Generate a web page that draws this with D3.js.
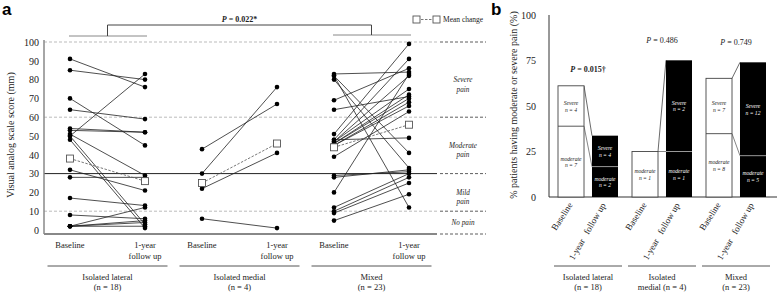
<!DOCTYPE html>
<html><head><meta charset="utf-8">
<script src="https://cdn.jsdelivr.net/npm/d3@7"></script>
<style>
body{margin:0;background:#fff}
svg{display:block}
svg text{font-family:"Times New Roman","Liberation Serif","DejaVu Serif",serif;fill:#222}
</style>
</head><body>
<svg id="c" width="778" height="294" font-family="Liberation Serif, DejaVu Serif, serif"></svg>
<script>
// ---------------- DATA ----------------
const groups = ["Isolated lateral", "Isolated medial", "Mixed"];
const groupLabelsA = [["Isolated lateral", "(n = 18)"], ["Isolated medial", "(n = 4)"], ["Mixed", "(n = 23)"]];
const groupLabelsB = [["Isolated lateral", "(n = 18)"], ["Isolated", "medial (n = 4)"], ["Mixed", "(n = 23)"]];
const timePoints = ["Baseline", "1-year follow up"];
const yTicksA = [0, 10, 20, 30, 40, 50, 60, 70, 80, 90, 100];
const yTicksB = [0, 25, 50, 75, 100];

// panel a: individual VAS scores (mm)
const lateralBaseline = [91, 85, 70, 64, 54, 53, 50, 51, 50, 48, 32, 28, 17, 8, 2, 2, 2, 2];
const lateralFollowUp = [76, 80, 45, 59, 52, 52, 83, 29, 3, 1, 21, 28, 13, 6, 12, 5, 4, 2];
const medialBaseline = [43, 30, 22, 6];
const medialFollowUp = [67, 76, 41, 1];
const mixedBaseline = [83, 82, 82, 80, 69, 64, 51, 48, 48, 47, 47, 46, 46, 45, 45, 39, 29, 28, 20, 12, 10, 9, 5];
const mixedFollowUp = [84, 41, 12, 33, 86, 71, 99, 91, 49, 82, 75, 72, 70, 68, 66, 63, 31, 32, 83, 30, 28, 25, 19];
const meanBaseline = [38, 25, 44];
const meanFollowUp = [26, 46, 56];
const painCuts = [100, 60, 30, 10];
const painLabels = [["Severe", "pain"], ["Moderate", "pain"], ["Mild", "pain"], ["No pain"]];
const pValueA = "0.022*";

// panel b: % patients with moderate / severe pain
const baseModerate = [38.9, 25, 34.8];
const baseSevere = [22.2, 0, 30.4];
const fuModerate = [16.7, 25, 22.7];
const fuSevere = [17.0, 50.1, 51.3];
const baseModerateN = ["n = 7", "n = 1", "n = 8"];
const baseSevereN = ["n = 4", "", "n = 7"];
const fuModerateN = ["n = 2", "n = 1", "n = 5"];
const fuSevereN = ["n = 4", "n = 2", "n = 12"];
const pValuesB = ["0.015\u2020", "0.486", "0.749"];
const pBold = [true, false, false];

const valuesA = [[lateralBaseline, lateralFollowUp], [medialBaseline, medialFollowUp], [mixedBaseline, mixedFollowUp]];

// ---------------- PANEL A ----------------
const svg = d3.select("#c");
const left = 44, right = 437, bottomY = 234;
const yA = d3.scaleLinear().domain([0, 100]).range([230, 42]);
const xA = d3.scaleBand().domain(groups).range([41.5, 437.5]);
const xInA = d3.scalePoint().domain(timePoints).range([0, xA.bandwidth()]).padding(0.38);
const px = (g, t) => xA(g) + xInA(t);

svg.append("text").text("a").attr("x", 2).attr("y", 15)
  .style("font-family", "'Liberation Sans', Arial, sans-serif").style("font-weight", "bold").style("font-size", "17px").style("fill", "#000");
svg.append("text").text("b").attr("x", 491).attr("y", 15)
  .style("font-family", "'Liberation Sans', Arial, sans-serif").style("font-weight", "bold").style("font-size", "17px").style("fill", "#000");

const gA = svg.append("g");
// gridlines
painCuts.forEach(v => {
  gA.append("line").attr("x1", left).attr("x2", right).attr("y1", yA(v)).attr("y2", yA(v))
    .attr("stroke", v === 30 ? "#222" : "#aaa").attr("stroke-width", v === 30 ? 1 : 0.8)
    .attr("stroke-dasharray", v === 30 ? null : "3,2");
});
// right-side dashed markers
[...painCuts.map(v => yA(v)), bottomY].forEach(y => {
  gA.append("line").attr("x1", 440).attr("x2", 486).attr("y1", y).attr("y2", y)
    .attr("stroke", "#333").attr("stroke-width", 0.8).attr("stroke-dasharray", "3,2");
});
// pain labels
const cutsPlus = [...painCuts, yA.invert(bottomY)];
painLabels.forEach((lab, i) => {
  const mid = yA((cutsPlus[i] + cutsPlus[i + 1]) / 2);
  lab.forEach((s, j) => {
    gA.append("text").text(s).attr("x", 463).attr("y", mid + 2.5 + j * 9.5)
      .attr("text-anchor", "middle").style("font-style", "italic").style("font-size", "7.2px");
  });
});
// axes
gA.append("line").attr("x1", left).attr("x2", left).attr("y1", 40).attr("y2", bottomY).attr("stroke", "#888").attr("stroke-width", 1.5);
gA.append("line").attr("x1", left).attr("x2", right).attr("y1", bottomY).attr("y2", bottomY).attr("stroke", "#888").attr("stroke-width", 2);
const yAxA = gA.append("g").attr("transform", `translate(${left},0)`)
  .call(d3.axisLeft(yA).tickValues(yTicksA).tickSize(0).tickPadding(5));
yAxA.select(".domain").remove();
yAxA.attr("font-family", null).attr("font-size", null);
yAxA.selectAll("text").style("font-size", "10px").style("fill", "#222");
gA.append("text").text("Visual analog scale score (mm)")
  .attr("transform", `translate(14,${(yA(100) + yA(0)) / 2 - 1}) rotate(-90)`)
  .attr("text-anchor", "middle").style("font-size", "10px");

// individual lines & dots
groups.forEach((g, i) => {
  const [b, f] = valuesA[i];
  b.forEach((bv, k) => {
    gA.append("line").attr("x1", px(g, timePoints[0])).attr("y1", yA(bv))
      .attr("x2", px(g, timePoints[1])).attr("y2", yA(f[k]))
      .attr("stroke", "#222").attr("stroke-width", 0.8);
  });
  // mean change
  gA.append("line").attr("x1", px(g, timePoints[0])).attr("y1", yA(meanBaseline[i]))
    .attr("x2", px(g, timePoints[1])).attr("y2", yA(meanFollowUp[i]))
    .attr("stroke", "#555").attr("stroke-width", 0.8).attr("stroke-dasharray", "2.5,1.5");
  b.forEach(v => gA.append("circle").attr("cx", px(g, timePoints[0])).attr("cy", yA(v)).attr("r", 2.3).attr("fill", "#000"));
  f.forEach(v => gA.append("circle").attr("cx", px(g, timePoints[1])).attr("cy", yA(v)).attr("r", 2.3).attr("fill", "#000"));
  [[timePoints[0], meanBaseline[i]], [timePoints[1], meanFollowUp[i]]].forEach(([t, v]) => {
    gA.append("rect").attr("x", px(g, t) - 3.5).attr("y", yA(v) - 3.5).attr("width", 7).attr("height", 7)
      .attr("fill", "#fff").attr("stroke", "#555").attr("stroke-width", 0.9);
  });
  // x labels
  gA.append("text").text("Baseline").attr("x", px(g, timePoints[0])).attr("y", 248)
    .attr("text-anchor", "middle").style("font-size", "8.5px");
  gA.append("text").text("1-year").attr("x", px(g, timePoints[1])).attr("y", 248)
    .attr("text-anchor", "middle").style("font-size", "8.5px");
  gA.append("text").text("follow up").attr("x", px(g, timePoints[1])).attr("y", 259)
    .attr("text-anchor", "middle").style("font-size", "8.5px");
  const gx0 = xA(g) + 6, gx1 = xA(g) + xA.bandwidth() - 6;
  gA.append("line").attr("x1", gx0).attr("x2", gx1).attr("y1", 266).attr("y2", 266).attr("stroke", "#555").attr("stroke-width", 1);
  groupLabelsA[i].forEach((s, j) => {
    gA.append("text").text(s).attr("x", xA(g) + xA.bandwidth() / 2).attr("y", 280 + j * 10)
      .attr("text-anchor", "middle").style("font-size", "8.5px");
  });
});

// significance bracket
const cL = (px(groups[0], timePoints[0]) + px(groups[0], timePoints[1])) / 2;
const cM = (px(groups[2], timePoints[0]) + px(groups[2], timePoints[1])) / 2;
gA.append("line").attr("x1", px(groups[0], timePoints[0]) - 1).attr("x2", px(groups[0], timePoints[1]) + 2).attr("y1", 36).attr("y2", 36).attr("stroke", "#888").attr("stroke-width", 1);
gA.append("line").attr("x1", px(groups[2], timePoints[0]) - 1).attr("x2", px(groups[2], timePoints[1]) + 2).attr("y1", 35).attr("y2", 35).attr("stroke", "#888").attr("stroke-width", 1);
gA.append("path").attr("d", `M${cL},36V25H${cM}V35`).attr("fill", "none").attr("stroke", "#444").attr("stroke-width", 1);
const pt = gA.append("text").attr("x", (cL + cM) / 2 - 0).attr("y", 22).attr("text-anchor", "middle")
  .style("font-size", "8px").style("font-weight", "bold");
pt.append("tspan").text("P").style("font-style", "italic");
pt.append("tspan").text(" = " + pValueA);

// legend
gA.append("rect").attr("x", 413).attr("y", 16).attr("width", 7).attr("height", 7).attr("fill", "#fff").attr("stroke", "#555").attr("stroke-width", 0.9);
gA.append("line").attr("x1", 421).attr("x2", 432).attr("y1", 19.5).attr("y2", 19.5).attr("stroke", "#555").attr("stroke-width", 0.8).attr("stroke-dasharray", "2.5,1.5");
gA.append("rect").attr("x", 433).attr("y", 16).attr("width", 7).attr("height", 7).attr("fill", "#fff").attr("stroke", "#555").attr("stroke-width", 0.9);
gA.append("text").text("Mean change").attr("x", 443).attr("y", 22).style("font-size", "7.5px");

// ---------------- PANEL B ----------------
const gB = svg.append("g");
const yB = d3.scaleLinear().domain([0, 100]).range([197, 15]);
const xB = d3.scaleBand().domain(groups).range([551, 773]);
const xInB = d3.scaleBand().domain(timePoints).range([0, xB.bandwidth()]).paddingInner(0.235).paddingOuter(0.206);
const bw = xInB.bandwidth();

gB.append("line").attr("x1", 549).attr("x2", 549).attr("y1", 15).attr("y2", yB(0)).attr("stroke", "#333").attr("stroke-width", 1);
gB.append("line").attr("x1", 549).attr("x2", 777).attr("y1", yB(0)).attr("y2", yB(0)).attr("stroke", "#333").attr("stroke-width", 1);
const yAxB = gB.append("g").attr("transform", "translate(549,0)")
  .call(d3.axisLeft(yB).tickValues(yTicksB).tickSize(0).tickPadding(13));
yAxB.select(".domain").remove();
yAxB.attr("font-family", null).attr("font-size", null);
yAxB.selectAll("text").style("font-size", "10px").style("fill", "#222");
gB.append("text").text("% patients having moderate or severe pain (%)")
  .attr("transform", `translate(517,${(yB(100) + yB(0)) / 2 - 1}) rotate(-90)`)
  .attr("text-anchor", "middle").style("font-size", "10px");

function segLabel(x, y0, y1, l1, l2, color) {
  const m = (y0 + y1) / 2;
  gB.append("text").text(l1).attr("x", x).attr("y", m - 1).attr("text-anchor", "middle")
    .style("font-size", "5.6px").style("font-style", "italic").style("fill", color);
  gB.append("text").text(l2).attr("x", x).attr("y", m + 5.5).attr("text-anchor", "middle")
    .style("font-size", "5.6px").style("font-style", "italic").style("fill", color);
}

groups.forEach((g, i) => {
  const xb = xB(g) + xInB(timePoints[0]);
  const xf = xB(g) + xInB(timePoints[1]);
  const bTop = baseModerate[i] + baseSevere[i];
  const fTop = fuModerate[i] + fuSevere[i];
  // connectors
  gB.append("line").attr("x1", xb + bw).attr("y1", yB(bTop)).attr("x2", xf).attr("y2", yB(fTop)).attr("stroke", "#444").attr("stroke-width", 0.8);
  gB.append("line").attr("x1", xb + bw).attr("y1", yB(baseModerate[i])).attr("x2", xf).attr("y2", yB(fuModerate[i])).attr("stroke", "#666").attr("stroke-width", 0.8);
  // baseline bar
  gB.append("rect").attr("x", xb).attr("y", yB(bTop)).attr("width", bw).attr("height", yB(0) - yB(bTop))
    .attr("fill", "#fff").attr("stroke", "#444").attr("stroke-width", 0.9);
  if (baseSevere[i] > 0) {
    gB.append("line").attr("x1", xb).attr("x2", xb + bw).attr("y1", yB(baseModerate[i])).attr("y2", yB(baseModerate[i])).attr("stroke", "#444").attr("stroke-width", 0.9);
    segLabel(xb + bw / 2, yB(bTop), yB(baseModerate[i]), "Severe", baseSevereN[i], "#222");
  }
  segLabel(xb + bw / 2, yB(baseModerate[i]), yB(0), "moderate", baseModerateN[i], "#222");
  // follow-up bar
  gB.append("rect").attr("x", xf).attr("y", yB(fTop)).attr("width", bw).attr("height", yB(0) - yB(fTop)).attr("fill", "#000");
  gB.append("line").attr("x1", xf).attr("x2", xf + bw).attr("y1", yB(fuModerate[i])).attr("y2", yB(fuModerate[i])).attr("stroke", "#999").attr("stroke-width", 1);
  segLabel(xf + bw / 2, yB(fTop), yB(fuModerate[i]), "Severe", fuSevereN[i], "#fff");
  segLabel(xf + bw / 2, yB(fuModerate[i]), yB(0), "moderate", fuModerateN[i], "#fff");
  // P values
  const pTxt = gB.append("text").attr("x", xB(g) + xB.bandwidth() / 2).attr("y", yB(Math.max(bTop, fTop)) - (i === 0 ? 14 : 17))
    .attr("text-anchor", "middle").style("font-size", "8px").style("font-weight", pBold[i] ? "bold" : "normal");
  pTxt.append("tspan").text("P").style("font-style", "italic");
  pTxt.append("tspan").text(" = " + pValuesB[i]);
  // rotated x labels
  gB.append("text").text("Baseline").attr("transform", `translate(${xb + bw / 2 + 2},205) rotate(-57)`)
    .attr("text-anchor", "end").style("font-size", "9px");
  gB.append("text").text("1-year\u00a0\u00a0\u00a0follow up").attr("transform", `translate(${xf + bw / 2 + 1},205) rotate(-60)`)
    .attr("text-anchor", "end").style("font-size", "9px");
  // group underline & labels
  gB.append("line").attr("x1", xB(g) + 3).attr("x2", xB(g) + xB.bandwidth() - 3).attr("y1", 266).attr("y2", 266).attr("stroke", "#555").attr("stroke-width", 1);
  groupLabelsB[i].forEach((s, j) => {
    gB.append("text").text(s).attr("x", xB(g) + xB.bandwidth() / 2).attr("y", 280 + j * 10)
      .attr("text-anchor", "middle").style("font-size", "8.5px");
  });
});
</script>
</body></html>
